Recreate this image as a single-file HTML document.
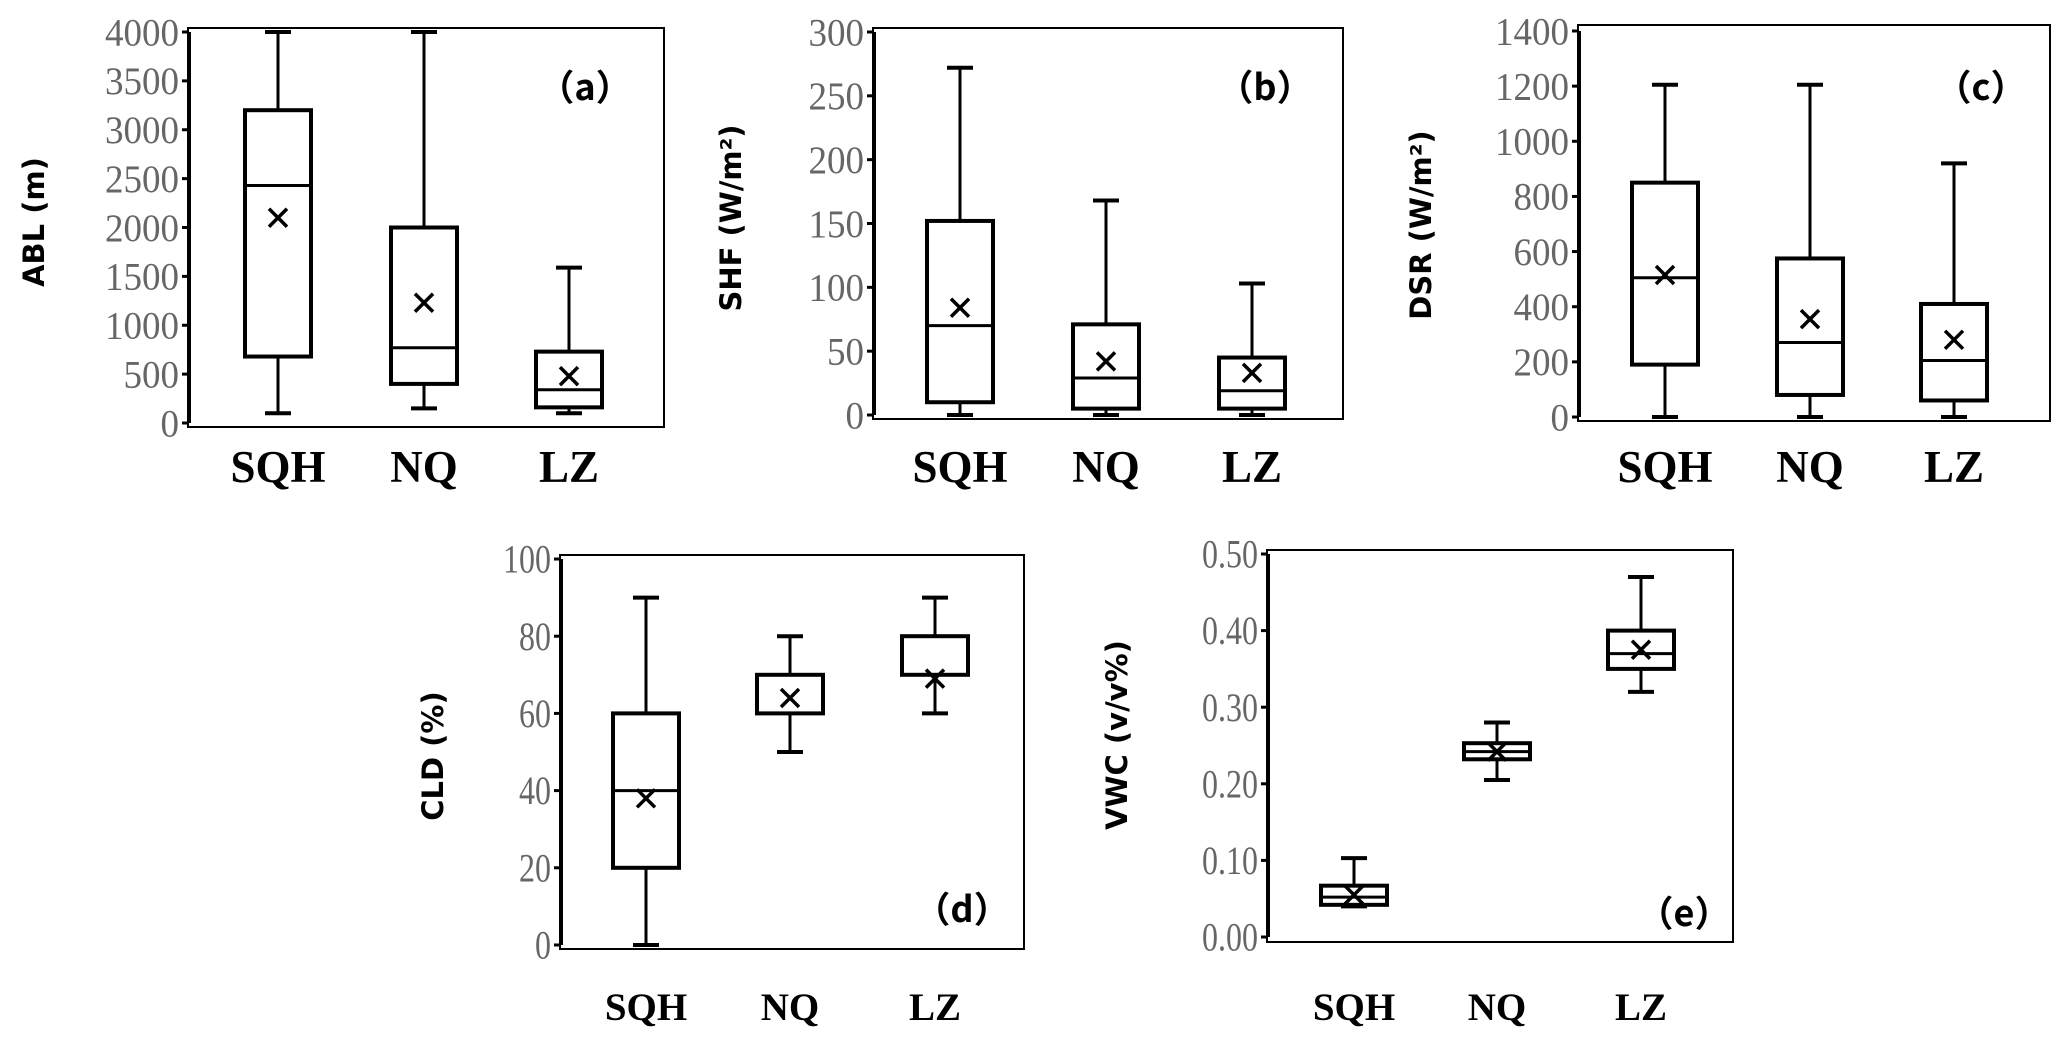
<!DOCTYPE html>
<html><head><meta charset="utf-8"><style>
html,body{margin:0;padding:0;background:#fff;}
svg{display:block;}
.tick{font-family:"Liberation Serif",serif;fill:#666;}
.cat{font-family:"Liberation Serif",serif;font-weight:bold;fill:#000;}
.ytitle{font-family:"DejaVu Sans","Liberation Sans",sans-serif;font-size:29px;font-weight:bold;fill:#000;}
.plabel{font-family:"Noto Sans CJK SC","DejaVu Sans",sans-serif;font-size:36px;font-weight:bold;fill:#000;}
</style></head><body>
<svg id="chart" width="2067" height="1045" viewBox="0 0 2067 1045"></svg>
<script>
const categories = ["SQH","NQ","LZ"];
// [min, q1, median, q3, max]
const ablStats = [[100,680,2430,3200,4000],[150,400,770,2000,4000],[100,160,340,730,1590]];
const ablMeans = [2100,1230,480];
const shfStats = [[0,10,70,152,272],[0,5,29,71,168],[0,5,19,45,103]];
const shfMeans = [84,42,33];
const dsrStats = [[0,190,505,850,1205],[0,80,270,575,1205],[0,60,205,410,920]];
const dsrMeans = [515,355,280];
const cldStats = [[0,20,40,60,90],[50,60,60,70,80],[60,70,70,80,90]];
const cldMeans = [38,64,69];
const vwcStats = [[0.04,0.042,0.052,0.067,0.103],[0.205,0.232,0.242,0.253,0.28],[0.32,0.35,0.37,0.40,0.47]];
const vwcMeans = [0.055,0.242,0.375];
const ablTicks = [0,500,1000,1500,2000,2500,3000,3500,4000];
const shfTicks = [0,50,100,150,200,250,300];
const dsrTicks = [0,200,400,600,800,1000,1200,1400];
const cldTicks = [0,20,40,60,80,100];
const vwcTicks = [0,0.1,0.2,0.3,0.4,0.5];

const NS="http://www.w3.org/2000/svg";
const svg=document.getElementById('chart');
function mk(tag,attrs,parent){const e=document.createElementNS(NS,tag);for(const k in attrs)e.setAttribute(k,attrs[k]);(parent||svg).appendChild(e);return e;}

const panels=[
 {id:'a',stats:ablStats,means:ablMeans,ticks:ablTicks,fmt:v=>String(v),ymax:4000,L:188,R:664,T:28,B:427,y0:423,y1:32,cx:[278,424,569],catY:482,catFs:45,tfs:39,tsx:0.95,title:'ABL (m)',tx:34,ty:222,lab:'（a）',lx:585,ly:100},
 {id:'b',stats:shfStats,means:shfMeans,ticks:shfTicks,fmt:v=>String(v),ymax:300,L:873,R:1343,T:28,B:419,y0:415,y1:32,cx:[960,1106,1252],catY:482,catFs:45,tfs:39,tsx:0.95,title:'SHF (W/m²)',tx:731,ty:218,lab:'（b）',lx:1265,ly:100},
 {id:'c',stats:dsrStats,means:dsrMeans,ticks:dsrTicks,fmt:v=>String(v),ymax:1400,L:1578,R:2050,T:25,B:421,y0:417,y1:31,cx:[1665,1810,1954],catY:482,catFs:45,tfs:39,tsx:0.95,title:'DSR (W/m²)',tx:1421,ty:225,lab:'（c）',lx:1981,ly:100},
 {id:'d',stats:cldStats,means:cldMeans,ticks:cldTicks,fmt:v=>String(v),ymax:100,L:560,R:1024,T:555,B:949,y0:945,y1:559,cx:[646,790,935],catY:1020,catFs:39,tfs:40,tsx:0.8,title:'CLD (%)',tx:433,ty:756,lab:'（d）',lx:962,ly:922},
 {id:'e',stats:vwcStats,means:vwcMeans,ticks:vwcTicks,fmt:v=>v.toFixed(2),ymax:0.5,L:1267,R:1733,T:550,B:942,y0:937,y1:554,cx:[1354,1497,1641],catY:1020,catFs:39,tfs:40,tsx:0.8,title:'VWC (v/v%)',tx:1117,ty:735,lab:'（e）',lx:1684,ly:926}
];

panels.forEach(p=>{
 const g=mk('g',{});
 
 
 const y=v=>p.y0+(p.y1-p.y0)*v/p.ymax;
 const frame=mk('rect',{x:p.L,y:p.T,width:p.R-p.L,height:p.B-p.T,fill:'none',stroke:'#000','stroke-width':2},g);
 
 
 const ax=mk('line',{x1:p.L+1,x2:p.L+1,y1:y(p.ymax),y2:p.y0,stroke:'#000','stroke-width':4},g);
 
 
 p.ticks.forEach(t=>{
  mk('line',{x1:p.L-6,x2:p.L,y1:y(t),y2:y(t),stroke:'#000','stroke-width':3},g);
  const xx=p.L-9, yy=y(t)+p.tfs*0.34;
  const tl=mk('text',{x:0,y:0,'text-anchor':'end',class:'tick','font-size':p.tfs,transform:`translate(${xx} ${yy}) scale(${p.tsx} 1)`},g);
  tl.textContent=p.fmt(t);
  
  
 });
 const yt=mk('text',{x:p.tx,y:p.ty,'text-anchor':'middle',class:'ytitle',transform:`rotate(-90 ${p.tx} ${p.ty})`,'dominant-baseline':'central'},g);
 yt.textContent=p.title;
 
 
 const pl=mk('text',{x:p.lx,y:p.ly,'text-anchor':'middle',class:'plabel'},g);
 pl.textContent=p.lab;
 
 
 categories.forEach((c,i)=>{
  const cx=p.cx[i],s=p.stats[i],hw=33,cap=13;
  const bg=mk('g',{},g);
  
  
  mk('line',{x1:cx,x2:cx,y1:y(s[0]),y2:y(s[1]),stroke:'#000','stroke-width':3},bg);
  mk('line',{x1:cx,x2:cx,y1:y(s[3]),y2:y(s[4]),stroke:'#000','stroke-width':3},bg);
  mk('line',{x1:cx-cap,x2:cx+cap,y1:y(s[0]),y2:y(s[0]),stroke:'#000','stroke-width':4},bg);
  mk('line',{x1:cx-cap,x2:cx+cap,y1:y(s[4]),y2:y(s[4]),stroke:'#000','stroke-width':4},bg);
  mk('rect',{x:cx-hw,y:y(s[3]),width:2*hw,height:y(s[1])-y(s[3]),fill:'#fff',stroke:'#000','stroke-width':4},bg);
  mk('line',{x1:cx-hw,x2:cx+hw,y1:y(s[2]),y2:y(s[2]),stroke:'#000','stroke-width':3},bg);
  const m=y(p.means[i]),d=9;
  const mm=mk('path',{d:`M${cx-d},${m-d}L${cx+d},${m+d}M${cx+d},${m-d}L${cx-d},${m+d}`,stroke:'#000','stroke-width':3.5,fill:'none'},bg);
  
  
  const cl=mk('text',{x:cx,y:p.catY,'text-anchor':'middle',class:'cat','font-size':p.catFs},g);
  cl.textContent=c;
  
  
 });
});
</script>
</body></html>
